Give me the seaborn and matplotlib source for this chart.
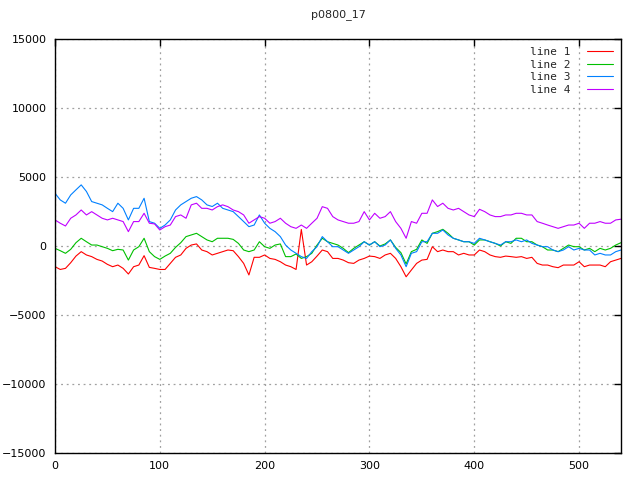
import matplotlib
matplotlib.use("Agg")
import matplotlib.pyplot as plt
import numpy as np
import pandas as pd
import seaborn as sns

# samples every 5 units
x = np.arange(0, 541, 5)

line1 = [-1500, -1700, -1620, -1210, -730, -410, -650, -770, -970, -1090,
         -1330, -1500, -1380, -1620, -2030, -1500, -1380, -700, -1550, -1620,
         -1700, -1700, -1260, -820, -650, -170, 70, 150, -290, -410,
         -650, -530, -410, -290, -340, -770, -1260, -2100, -820, -820,
         -650, -900, -970, -1140, -1380, -1500, -1700, 1200, -1380, -1140,
         -730, -290, -410, -900, -900, -1020, -1210, -1260, -1020, -900,
         -730, -770, -900, -650, -530, -900, -1500, -2230, -1740, -1260,
         -1020, -970, -50, -410, -290, -410, -410, -650, -530, -650,
         -650, -290, -410, -650, -770, -820, -730, -770, -820, -770,
         -900, -820, -1260, -1380, -1380, -1500, -1570, -1380, -1380, -1380,
         -1140, -1500, -1380, -1380, -1380, -1500, -1140, -1020, -900]

line2 = [-170, -340, -530, -240, 240, 560, 310, 70, 70, -50,
         -170, -340, -240, -290, -1020, -290, -50, 560, -410, -770,
         -970, -730, -530, -100, 240, 680, 800, 920, 680, 440,
         310, 560, 560, 560, 480, 190, -290, -410, -290, 310,
         -50, -170, 70, 150, -770, -770, -580, -900, -770, -530,
         70, 560, 310, 190, 70, -170, -480, -170, 70, 310,
         70, 310, 0, 150, 440, -100, -480, -1300, -410, -240,
         440, 190, 920, 1040, 1210, 920, 560, 440, 310, 310,
         70, 440, 440, 310, 190, 0, 310, 190, 560, 560,
         310, 310, 70, -50, -290, -290, -410, -170, 70, -50,
         -50, -290, -170, -410, -170, -290, -170, 70, 240]

line3 = [3820, 3340, 3100, 3700, 4070, 4430, 3950, 3220, 3100, 2980,
         2730, 2490, 3100, 2730, 1890, 2730, 2730, 3460, 1770, 1650,
         1280, 1520, 1890, 2610, 2980, 3220, 3460, 3580, 3340, 2980,
         2860, 3100, 2730, 2610, 2490, 2130, 1770, 1400, 1520, 2250,
         1650, 1280, 1040, 680, 70, -290, -530, -770, -900, -410,
         -50, 680, 310, -50, -50, -290, -530, -290, -50, 310,
         70, 310, -50, 70, 440, -170, -650, -1500, -530, -410,
         310, 310, 920, 920, 1160, 800, 560, 440, 310, 310,
         190, 560, 440, 310, 190, 70, 310, 310, 440, 310,
         440, 190, 70, -50, -50, -290, -410, -290, -50, -290,
         -170, -290, -290, -650, -530, -650, -650, -410, -290]

line4 = [1890, 1650, 1450, 2010, 2250, 2610, 2250, 2490, 2250, 2010,
         1890, 2010, 1890, 1770, 1040, 1770, 1770, 2370, 1650, 1600,
         1160, 1400, 1520, 2130, 2250, 2010, 2980, 3100, 2730, 2730,
         2610, 2850, 2980, 2850, 2610, 2490, 2250, 1650, 1890, 2130,
         2010, 1650, 1770, 2010, 1650, 1400, 1280, 1520, 1280, 1650,
         2010, 2850, 2730, 2130, 1890, 1770, 1650, 1650, 1770, 2490,
         1890, 2370, 2010, 2130, 2490, 1770, 1280, 560, 1770, 1650,
         2370, 2370, 3340, 2860, 3100, 2730, 2610, 2730, 2490, 2250,
         2130, 2660, 2490, 2250, 2130, 2130, 2250, 2250, 2370, 2370,
         2250, 2250, 1770, 1650, 1520, 1400, 1280, 1400, 1520, 1520,
         1650, 1280, 1650, 1650, 1770, 1650, 1650, 1890, 1940]

names = ["line 1", "line 2", "line 3", "line 4"]
colors = ["#ff0000", "#00c000", "#0080ff", "#c000ff"]

df = pd.concat([
    pd.DataFrame({"x": x, "y": vals, "series": name})
    for name, vals in zip(names, [line1, line2, line3, line4])
])

sns.set_style("white")
plt.rcParams["font.family"] = ["DejaVu Sans"]

fig = plt.figure(figsize=(6.4, 4.8), dpi=100)
ax = fig.add_axes([55 / 640, 1 - 453 / 480, 566 / 640, 414 / 480])

sns.lineplot(data=df, x="x", y="y", hue="series", palette=colors,
             linewidth=0.8, ax=ax, estimator=None, sort=False)

ax.set_xlim(0, 540)
ax.set_ylim(-15000, 15000)
ax.set_xticks([0, 100, 200, 300, 400, 500])
ax.set_yticks(np.arange(-15000, 15001, 5000))
ax.set_xlabel("")
ax.set_ylabel("")
ax.grid(True, color="#a0a0a0", linestyle=(0, (1.5, 3)), linewidth=0.9)
ax.tick_params(direction="in", length=5, width=1, top=True, right=True,
               labelsize=8, colors="black", pad=6)
for s in ax.spines.values():
    s.set_color("black")
    s.set_linewidth(1)
ax.set_title("p0800_17", fontsize=8, pad=16)

leg = ax.legend(loc="upper right", frameon=False, markerfirst=False,
                handlelength=2.4, handletextpad=1.4, labelspacing=0.25,
                borderaxespad=0.3, prop={"family": "DejaVu Sans Mono", "size": 8})
for t in leg.get_texts():
    t.set_ha("right")

fig.savefig("out.png", dpi=100)
